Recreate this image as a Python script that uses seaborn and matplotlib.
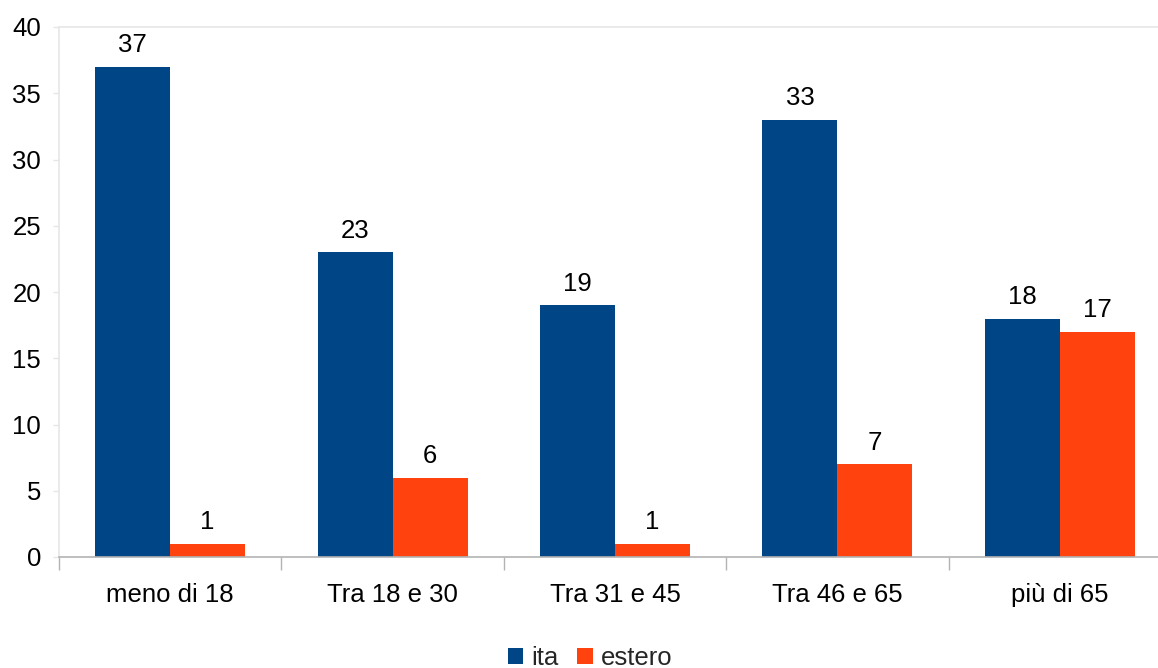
import matplotlib
matplotlib.use("Agg")
import matplotlib.pyplot as plt
import seaborn as sns
import pandas as pd
from matplotlib.patches import Patch

categories = ["meno di 18", "Tra 18 e 30", "Tra 31 e 45", "Tra 46 e 65", "più di 65"]
ita = [37, 23, 19, 33, 18]
estero = [1, 6, 1, 7, 17]
series = ["ita", "estero"]
colors = ["#004586", "#FF420E"]

df = pd.DataFrame({
    "cat": categories * 2,
    "val": ita + estero,
    "serie": ["ita"] * len(categories) + ["estero"] * len(categories),
})

sns.set_theme(style="white")
plt.rcParams["font.family"] = ["Liberation Sans", "DejaVu Sans"]

FS = 18.5
fig = plt.figure(figsize=(11.58, 6.68), dpi=100)
ax = fig.add_axes([59 / 1158, 1 - 557 / 668, (1171 - 59) / 1158, (557 - 27) / 668])

sns.barplot(data=df, x="cat", y="val", hue="serie", order=categories,
            hue_order=series, palette=colors, width=0.674, gap=0,
            saturation=1, ax=ax, legend=False, errorbar=None, linewidth=0)

for cont in ax.containers:
    ax.bar_label(cont, padding=7, fontsize=FS, color="#000000")

ax.set_ylim(0, 40)
ax.set_xlim(-0.5, len(categories) - 0.5)
ax.set_yticks(range(0, 41, 5))
ax.set_xlabel("")
ax.set_ylabel("")
ax.tick_params(axis="y", labelsize=FS, length=4, width=1, color="#e6e6e6", pad=9, left=True)
ax.tick_params(axis="x", labelsize=FS, length=0, pad=19)
ax.set_xticks([i - 0.5 for i in range(len(categories) + 1)], minor=True)
ax.tick_params(axis="x", which="minor", length=9, width=1, color="#b3b3b3", bottom=True)
for lbl in ax.get_yticklabels() + ax.get_xticklabels():
    lbl.set_color("#000000")

for side in ["top", "left", "right"]:
    ax.spines[side].set_color("#e6e6e6")
    ax.spines[side].set_linewidth(1.2)
ax.spines["right"].set_visible(False)
ax.spines["bottom"].set_color("#b3b3b3")
ax.spines["bottom"].set_linewidth(1.2)

handles = [Patch(facecolor=c, edgecolor="none") for c in colors]
fig.legend(handles, series, loc="center", bbox_to_anchor=(590 / 1158, 1 - 658 / 668),
           ncol=2, frameon=False, fontsize=FS, handlelength=0.6, handleheight=0.6,
           handletextpad=0.3, columnspacing=0.75)

fig.savefig("out.png", dpi=100)
